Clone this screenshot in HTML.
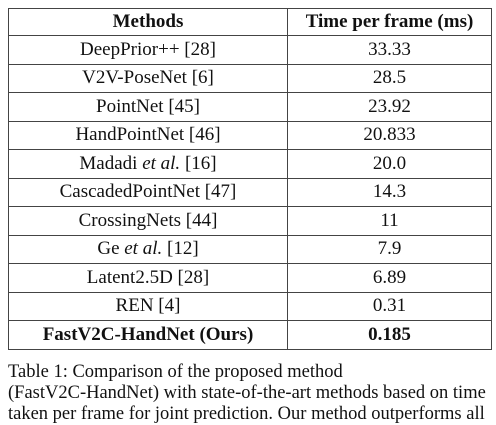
<!DOCTYPE html>
<html><head><meta charset="utf-8">
<style>
html,body{margin:0;padding:0;background:#fff;width:496px;height:422px;overflow:hidden}
body{font-family:"Liberation Serif",serif;color:#111}
table{position:absolute;left:8px;top:8px;width:484px;border-collapse:collapse;font-size:19px}
td,th{border:1.5px solid #444;text-align:center;height:27.5px;padding:0;line-height:26px}
th{font-weight:bold;height:26px;line-height:24px}
td.c1,th.c1{width:278px}
tr.ours td{font-weight:bold}
.cap{position:absolute;left:8px;top:362px;font-size:18.5px;line-height:21px;white-space:nowrap}
</style></head><body>
<table>
<tr><th class="c1">Methods</th><th>Time per frame (ms)</th></tr>
<tr><td class="c1">DeepPrior++ [28]</td><td>33.33</td></tr>
<tr><td class="c1">V2V-PoseNet [6]</td><td>28.5</td></tr>
<tr><td class="c1">PointNet [45]</td><td>23.92</td></tr>
<tr><td class="c1">HandPointNet [46]</td><td>20.833</td></tr>
<tr><td class="c1">Madadi <i>et al.</i> [16]</td><td>20.0</td></tr>
<tr><td class="c1">CascadedPointNet [47]</td><td>14.3</td></tr>
<tr><td class="c1">CrossingNets [44]</td><td>11</td></tr>
<tr><td class="c1">Ge <i>et al.</i> [12]</td><td>7.9</td></tr>
<tr><td class="c1">Latent2.5D [28]</td><td>6.89</td></tr>
<tr><td class="c1">REN [4]</td><td>0.31</td></tr>
<tr class="ours"><td class="c1">FastV2C-HandNet (Ours)</td><td>0.185</td></tr>
</table>
<div class="cap">Table 1: Comparison of the proposed method<br>(FastV2C-HandNet) with state-of-the-art methods based on time<br>taken per frame for joint prediction. Our method outperforms all</div>
</body></html>
